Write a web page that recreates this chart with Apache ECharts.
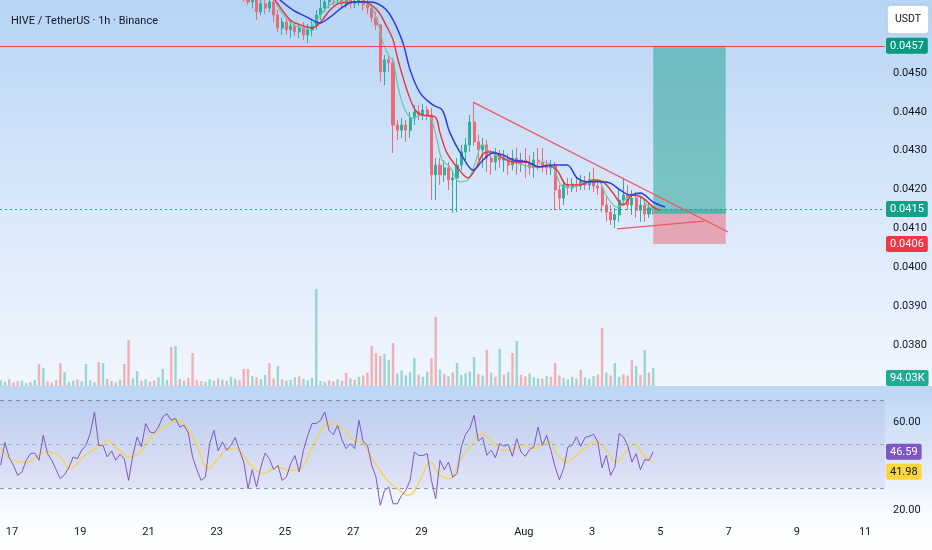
<!DOCTYPE html>
<html><head><meta charset="utf-8">
<script src="https://cdn.jsdelivr.net/npm/echarts@6/dist/echarts.min.js"></script>
<style>html,body{margin:0;padding:0;background:#fff}#c{width:932px;height:550px}</style>
</head><body><div id="c"></div>
<script>
// ---------- data (hours counted from Jul 17 00:00, one bar every 3h) ----------
const firstHour = -8, stepHours = 3;
const candleStart = 56; // index of first candle visible in the price pane
// [open, close, low, high]
const candles = [
[0.04719,0.04709,0.04696,0.04734],[0.04709,0.04696,0.04683,0.04719],[0.04696,0.04683,0.04675,0.04709],[0.04683,0.04698,0.04667,0.04709],
[0.04698,0.04657,0.04637,0.04703],[0.04657,0.04678,0.04649,0.04688],[0.04678,0.04667,0.04652,0.04693],[0.04667,0.04683,0.04657,0.04696],
[0.04683,0.04649,0.04631,0.04688],[0.04649,0.04616,0.04606,0.04662],[0.04616,0.04631,0.04598,0.04642],[0.04631,0.04611,0.04598,0.04642],
[0.04611,0.04621,0.04590,0.04637],[0.04621,0.04606,0.04595,0.04631],[0.04606,0.04616,0.04590,0.04626],[0.04616,0.04598,0.04585,0.04631],
[0.04598,0.04611,0.04577,0.04626],[0.04611,0.04621,0.04595,0.04637],[0.04621,0.04649,0.04611,0.04662],[0.04649,0.04667,0.04637,0.04688],
[0.04667,0.04683,0.04657,0.04701],[0.04683,0.04696,0.04667,0.04709],[0.04696,0.04688,0.04673,0.04709],[0.04688,0.04693,0.04675,0.04703],
[0.04693,0.04680,0.04667,0.04709],[0.04680,0.04691,0.04667,0.04698],[0.04691,0.04678,0.04665,0.04703],[0.04678,0.04683,0.04667,0.04693],
[0.04683,0.04688,0.04673,0.04701],[0.04688,0.04675,0.04662,0.04698],[0.04675,0.04667,0.04652,0.04688],[0.04667,0.04642,0.04631,0.04678],
[0.04642,0.04624,0.04611,0.04657],
[0.04624,0.04503,0.04477,0.04624],[0.04503,0.04534,0.04469,0.04546],[0.04534,0.04526,0.04503,0.04546],[0.04526,0.04366,0.04294,0.04539],
[0.04366,0.04353,0.04328,0.04379],[0.04353,0.04366,0.04333,0.04384],[0.04366,0.04353,0.04323,0.04379],[0.04353,0.04384,0.04333,0.04400],
[0.04384,0.04400,0.04366,0.04418],[0.04400,0.04392,0.04379,0.04418],[0.04392,0.04405,0.04379,0.04420],[0.04405,0.04392,0.04379,0.04415],
[0.04392,0.04238,0.04173,0.04410],[0.04238,0.04263,0.04173,0.04281],[0.04263,0.04238,0.04212,0.04281],[0.04238,0.04256,0.04220,0.04276],
[0.04256,0.04225,0.04199,0.04271],[0.04225,0.04230,0.04140,0.04250],[0.04230,0.04263,0.04142,0.04281],[0.04263,0.04297,0.04250,0.04315],
[0.04297,0.04315,0.04276,0.04333],[0.04315,0.04374,0.04297,0.04392],[0.04374,0.04323,0.04312,0.04425],[0.04323,0.04302,0.04276,0.04341],
[0.04302,0.04315,0.04256,0.04333],[0.04315,0.04281,0.04245,0.04328],[0.04281,0.04271,0.04238,0.04302],[0.04271,0.04289,0.04250,0.04307],
[0.04289,0.04276,0.04256,0.04302],[0.04276,0.04281,0.04245,0.04302],[0.04281,0.04263,0.04238,0.04292],[0.04263,0.04281,0.04250,0.04302],
[0.04281,0.04268,0.04238,0.04307],[0.04268,0.04276,0.04245,0.04294],[0.04276,0.04271,0.04230,0.04307],[0.04271,0.04256,0.04238,0.04289],
[0.04256,0.04276,0.04230,0.04297],[0.04276,0.04271,0.04250,0.04307],[0.04271,0.04263,0.04245,0.04307],[0.04263,0.04256,0.04238,0.04276],
[0.04256,0.04261,0.04238,0.04276],[0.04261,0.04199,0.04147,0.04271],[0.04199,0.04178,0.04147,0.04212],[0.04178,0.04212,0.04160,0.04225],
[0.04212,0.04204,0.04186,0.04230],[0.04204,0.04214,0.04194,0.04230],[0.04214,0.04209,0.04194,0.04230],[0.04209,0.04220,0.04199,0.04238],
[0.04220,0.04212,0.04199,0.04235],[0.04212,0.04225,0.04199,0.04245],[0.04225,0.04209,0.04194,0.04256],[0.04209,0.04204,0.04186,0.04225],
[0.04204,0.04160,0.04142,0.04220],[0.04160,0.04142,0.04117,0.04186],[0.04142,0.04122,0.04109,0.04160],[0.04122,0.04135,0.04101,0.04153],
[0.04135,0.04173,0.04117,0.04199],[0.04173,0.04186,0.04160,0.04230],[0.04186,0.04160,0.04147,0.04212],[0.04160,0.04178,0.04135,0.04199],
[0.04178,0.04147,0.04127,0.04194],[0.04147,0.04160,0.04117,0.04186],[0.04160,0.04137,0.04117,0.04173],[0.04137,0.04153,0.04127,0.04168],
[0.04153,0.04150,0.04135,0.04160]
];
// volume in thousands (K), one per bar from firstHour
const volumeK = [
30,22,35,18,25,28,15,20,32,115, 94,25,18,30,120,73,22,28,35,24,
115,30,20,125,120,38,26,18,33,115, 240,40,78,28,35,22,30,45,89,32,
204,209,36,28,42,172,30,25,22,35, 28,40,33,26,48,38,30,89,89,52,
45,36,58,120,40,104,35,28,32,45, 50,38,30,42,506,26,22,30,25,35,
28,68,40,33,48,55,70,209,172,157, 167,136,224,65,80,55,72,146,60,48,
75,146,360,85,62,50,70,120,58,66, 75,151,62,55,188,70,48,193,60,72,
172,235,58,50,65,45,40,38,52,48, 120,55,42,35,48,40,84,45,38,52,
60,303,70,55,120,48,62,55,136,104, 58,188,70,94.03
];
const rsiValues = [
40.4,50.8,43.9,40.4,35.8,37.3,42.7,45.7,46.0,42.7, 54.1,45.7,42.7,38.4,34.3,36.1,39.3,44.2,43.4,47.3,
49.5,54.9,64.8,49.5,49.5,44.2,47.0,42.7,45.4,43.4, 33.5,44.9,53.4,48.8,59.5,55.6,55.2,57.9,62.5,64.0,
61.0,61.8,57.9,58.7,55.2,44.2,38.4,33.5,35.0,50.3, 56.4,47.0,51.1,47.3,49.5,53.1,47.3,41.9,29.7,38.4,
30.5,39.6,46.0,43.4,38.4,40.4,33.5,35.0,41.1,44.9, 37.3,47.3,54.1,59.5,59.5,61.0,64.8,56.4,54.4,58.7,
52.1,48.0,50.3,48.0,61.0,51.1,49.5,40.4,35.0,22.1, 28.9,30.5,22.8,22.8,26.6,28.9,33.5,46.5,44.9,44.9,
45.7,33.5,25.1,42.7,38.4,41.9,35.0,36.6,48.8,54.6, 57.2,63.3,51.5,53.1,45.0,47.3,43.9,50.3,49.1,50.0,
44.5,52.6,46.5,44.5,47.6,48.8,57.9,49.5,54.1,47.3, 39.6,33.8,38.9,48.8,49.5,53.4,49.1,53.1,53.7,54.6,
51.1,39.3,45.0,35.8,39.6,54.9,53.4,49.5,41.9,45.7, 38.4,43.0,42.7,46.59
];
// [hour, value]
const rsiMA = [[-8,48.0],[-1,43.4],[10,41.9],[24,46.5],[33,45.0],[41,38.9],[50,44.2],[62,49.5],[67,51.8],[74,48.0],[83,44.2],[90,46.5],[99,54.1],[109,58.7],[116,61.0],[123,57.9],[130,49.5],[138,38.9],[144,42.7],[153,48.0],[160,47.3],[167,41.1],[177,36.6],[186,39.6],[196,38.1],[203,38.9],[212,49.5],[223,59.5],[231,57.9],[240,51.8],[247,50.3],[254,42.7],[264,33.5],[271,29.7],[279,26.6],[287,33.5],[294,41.9],[301,35.8],[308,34.3],[315,42.7],[322,48.8],[330,54.9],[339,50.3],[346,47.3],[353,48.0],[360,49.5],[367,48.0],[374,50.3],[378,51.1],[383,45.7],[390,41.9],[397,45.0],[404,48.8],[411,51.1],[418,47.3],[425,41.9],[432,46.5],[438,50.3],[444,45.0],[451,41.98]];
const emaFast = [[183,0.04709],[188.5,0.04662],[198,0.04624],[207.5,0.04616],[214.5,0.04637],[221.6,0.04670],[228.6,0.04683],[249.7,0.04680],[256.7,0.04637],[261,0.04577],[265.9,0.04539],[268,0.04534],[271.5,0.04464],[276.4,0.04405],[282,0.04384],[288.4,0.04392],[294,0.04387],[298.9,0.04328],[302.5,0.04276],[308,0.04258],[314.7,0.04220],[320.7,0.04225],[326.4,0.04276],[330.6,0.04315],[336.2,0.04297],[345.4,0.04281],[355.2,0.04268],[366.5,0.04258],[373.5,0.04271],[380.5,0.04258],[387.6,0.04207],[394.6,0.04207],[404.4,0.04220],[411.4,0.04225],[418.5,0.04181],[425.5,0.04155],[432.5,0.04178],[439.6,0.04191],[446.6,0.04160],[453.7,0.04147]];
const emaMid = [[180,0.04714],[185,0.04688],[195.5,0.04637],[202.6,0.04624],[211,0.04616],[216.6,0.04629],[223.7,0.04662],[230.7,0.04680],[246.9,0.04683],[256.7,0.04662],[263.8,0.04618],[268,0.04585],[271.5,0.04534],[277.8,0.04456],[283.5,0.04405],[288.4,0.04392],[297.5,0.04387],[301,0.04346],[306,0.04294],[314.7,0.04250],[320.7,0.04230],[326.4,0.04256],[332,0.04294],[338.3,0.04297],[345.4,0.04281],[352.4,0.04271],[362.2,0.04271],[369.3,0.04258],[376.3,0.04263],[383.3,0.04250],[390.4,0.04212],[399.5,0.04212],[408.7,0.04225],[415.7,0.04220],[422.7,0.04191],[429.8,0.04160],[436.8,0.04186],[443.8,0.04178],[450.9,0.04155],[455.8,0.04147]];
const emaSlow = [[178,0.04727],[188.5,0.04688],[197.7,0.04662],[207.5,0.04644],[216.6,0.04629],[223.7,0.04644],[232.8,0.04670],[239.9,0.04683],[251.8,0.04683],[261,0.04670],[268,0.04637],[275,0.04577],[280,0.04508],[287,0.04449],[296,0.04418],[302.5,0.04405],[308,0.04346],[317,0.04284],[324.3,0.04250],[331.3,0.04276],[338.3,0.04294],[345.4,0.04289],[352.4,0.04276],[362.2,0.04271],[371.4,0.04258],[380.5,0.04263],[390.4,0.04263],[397.4,0.04230],[404.4,0.04220],[413.6,0.04220],[420.6,0.04217],[427.6,0.04199],[434.7,0.04186],[441.7,0.04191],[450.9,0.04168],[459.3,0.04155]];
const upperTrend = [[324.3,0.04425],[503.6,0.04091]];
const lowerTrend = [[425.5,0.04099],[486.7,0.04119]];
const targetPrice = 0.0457, entryPrice = 0.04138, stopPrice = 0.0406, lastPrice = 0.0415;
const positionHours = [451, 502];
const lastVolumeK = 94.03, lastRsi = 46.59, lastRsiMA = 41.98;
const priceTicks = [0.038,0.039,0.040,0.041,0.042,0.043,0.044,0.045];
const rsiTicks = [20,60];
const rsiLevels = [70,50,30];
const dayTickHours = [0,48,96,144,192,240,288,360,408,456,504,552,600];
const dayTickNames = ['17','19','21','23','25','27','29','Aug','3','5','7','9','11'];
const titleText = 'HIVE / TetherUS · 1h · Binance';
const currencyText = 'USDT';

// ---------- chart ----------
const chart = echarts.init(document.getElementById('c'), null, {renderer:'canvas', width:932, height:550});
const hourOf = i => firstHour + stepHours * i;
const X_MIN = -8.44, X_MAX = 614;
const FONT = 'Roboto, "Liberation Sans", sans-serif';
const TXT = '#131722';
const HIDDEN = {color: 'rgba(0,0,0,0)', width: 0};
const candleData = candles.map((c, k) => [hourOf(candleStart + k), c[0], c[1], c[2], c[3]]);
const volData = volumeK.map((v, i) => ({
  value: [hourOf(i), v],
  itemStyle: {color: (i === 0 || rsiValues[i] >= rsiValues[i - 1]) ? 'rgba(38,166,154,0.42)' : 'rgba(239,83,80,0.42)'}
}));
const rsiData = rsiValues.map((v, i) => [hourOf(i), v]);

function tag(bg, fg, fmt, offset) {
  return {show: true, position: 'end', distance: 1, formatter: fmt, backgroundColor: bg, color: fg,
    padding: [3, 4, 2, 4], fontSize: 11, fontFamily: FONT, borderRadius: 2, offset: offset || [0, 0]};
}
const priceFmt = p => Number(p.value).toFixed(4);
const xBase = {type: 'value', min: X_MIN, max: X_MAX, axisLine: {show: false}, axisTick: {show: false},
  splitLine: {show: false}, axisLabel: {show: false}};

const option = {
  animation: false,
  backgroundColor: 'transparent',
  title: {text: titleText, left: 6, top: 11, textStyle: {fontSize: 11, fontWeight: 'normal', color: TXT, fontFamily: FONT}},
  graphic: [
    {type: 'rect', z: -10, silent: true, shape: {x: 0, y: 0, width: 932, height: 386},
      style: {fill: new echarts.graphic.LinearGradient(0, 0, 0, 1, [{offset: 0, color: '#b7d4f5'}, {offset: 0.5, color: '#d7e7fa'}, {offset: 1, color: '#f1f6fd'}])}},
    {type: 'rect', z: -10, silent: true, shape: {x: 0, y: 386, width: 932, height: 164},
      style: {fill: new echarts.graphic.LinearGradient(0, 0, 0, 1, [{offset: 0, color: '#bcd6f5'}, {offset: 0.45, color: '#dfe9fa'}, {offset: 0.8, color: '#fafcff'}, {offset: 1, color: '#ffffff'}])}},
    {type: 'group', left: 887, top: 5, z: 100, children: [
      {type: 'rect', shape: {x: 0, y: 0, width: 41, height: 28, r: 4},
        style: {fill: '#ffffff', stroke: 'rgba(0,0,0,0.06)', shadowBlur: 3, shadowColor: 'rgba(0,0,0,0.12)'}},
      {type: 'text', x: 20.5, y: 14, style: {text: currencyText, fill: TXT, fontSize: 10.5, fontFamily: FONT, align: 'center', verticalAlign: 'middle'}}
    ]}
  ],
  grid: [
    {left: 0, top: 0, width: 885, height: 386},
    {left: 0, top: 286, width: 885, height: 100},
    {left: 0, top: 387, width: 885, height: 131}
  ],
  xAxis: [
    Object.assign({gridIndex: 0}, xBase),
    Object.assign({gridIndex: 1}, xBase),
    Object.assign({}, xBase, {gridIndex: 2, axisLabel: {show: true, customValues: dayTickHours, margin: 9,
      formatter: v => dayTickNames[dayTickHours.indexOf(v)], color: TXT, fontSize: 11, fontFamily: FONT}})
  ],
  yAxis: [
    {gridIndex: 0, type: 'value', position: 'right', min: 0.036945, max: 0.046879, splitLine: {show: false},
      axisLine: {show: false}, axisTick: {show: false},
      axisLabel: {customValues: priceTicks, formatter: v => v.toFixed(4), color: TXT, fontSize: 11, fontFamily: FONT, margin: 8}},
    {gridIndex: 1, type: 'value', min: 0, max: 522, show: false},
    {gridIndex: 2, type: 'value', position: 'right', min: 16.3, max: 76.2, splitLine: {show: false},
      axisLine: {show: false}, axisTick: {show: false},
      axisLabel: {customValues: rsiTicks, formatter: v => v.toFixed(2), color: TXT, fontSize: 11, fontFamily: FONT, margin: 8}}
  ],
  series: [
    {type: 'bar', name: 'Volume', xAxisIndex: 1, yAxisIndex: 1, data: volData, barWidth: 2.4, z: 1,
      markLine: {silent: true, precision: 4, symbol: ['none', 'none'], data: [
        {yAxis: lastVolumeK, lineStyle: HIDDEN, label: tag('#22ab94', '#fff', p => Number(p.value).toFixed(2) + 'K', [0, 10])}
      ]}},
    {type: 'candlestick', name: 'HIVE', xAxisIndex: 0, yAxisIndex: 0, data: candleData, encode: {x: 0, y: [1, 2, 3, 4]},
      barWidth: 2.6, z: 3,
      itemStyle: {color: '#2fae9f', color0: '#ee6b75', borderColor: '#2fae9f', borderColor0: '#ee6b75', borderWidth: 1},
      markArea: {silent: true, data: [
        [{xAxis: positionHours[0], yAxis: targetPrice, itemStyle: {color: 'rgba(8,153,129,0.45)'}}, {xAxis: positionHours[1], yAxis: entryPrice}],
        [{xAxis: positionHours[0], yAxis: entryPrice, itemStyle: {color: 'rgba(242,54,69,0.38)'}}, {xAxis: positionHours[1], yAxis: stopPrice}],
        [{xAxis: positionHours[0], yAxis: lastPrice, itemStyle: {color: 'rgba(8,153,129,0.35)'}}, {xAxis: positionHours[1], yAxis: entryPrice}]
      ]},
      markLine: {silent: true, precision: 6, symbol: ['none', 'none'], data: [
        {yAxis: targetPrice, lineStyle: {color: '#ec4550', width: 1.2, type: 'solid'}, label: tag('#089981', '#fff', priceFmt)},
        {yAxis: lastPrice, lineStyle: {color: '#1e9e8c', width: 1, type: [2, 3]}, label: tag('#12a08a', '#fff', priceFmt)},
        {yAxis: stopPrice, lineStyle: HIDDEN, label: tag('#f23645', '#fff', priceFmt)}
      ]}},
    {type: 'line', name: 'EMA fast', xAxisIndex: 0, yAxisIndex: 0, data: emaFast, showSymbol: false, smooth: 0.35, z: 4,
      lineStyle: {color: '#6cc6a6', width: 1.2}},
    {type: 'line', name: 'EMA mid', xAxisIndex: 0, yAxisIndex: 0, data: emaMid, showSymbol: false, smooth: 0.35, z: 4,
      lineStyle: {color: '#e2343b', width: 1.4}},
    {type: 'line', name: 'EMA slow', xAxisIndex: 0, yAxisIndex: 0, data: emaSlow, showSymbol: false, smooth: 0.35, z: 4,
      lineStyle: {color: '#2a3ddc', width: 1.5}},
    {type: 'line', name: 'Trend high', xAxisIndex: 0, yAxisIndex: 0, data: upperTrend, showSymbol: false, z: 5,
      lineStyle: {color: '#ef5562', width: 1.2}},
    {type: 'line', name: 'Trend low', xAxisIndex: 0, yAxisIndex: 0, data: lowerTrend, showSymbol: false, z: 5,
      lineStyle: {color: '#ef5562', width: 1.2}},
    {type: 'line', name: 'RSI', xAxisIndex: 2, yAxisIndex: 2, data: rsiData, showSymbol: false, z: 4,
      lineStyle: {color: '#7e57c2', width: 1},
      markArea: {silent: true, data: [[{yAxis: rsiLevels[0], itemStyle: {color: 'rgba(126,87,194,0.09)'}}, {yAxis: rsiLevels[2]}]]},
      markLine: {silent: true, precision: 2, symbol: ['none', 'none'], data: [
        {yAxis: rsiLevels[0], lineStyle: {color: 'rgba(120,123,134,0.75)', width: 1, type: [4, 4]}, label: {show: false}},
        {yAxis: rsiLevels[1], lineStyle: {color: 'rgba(120,123,134,0.45)', width: 1, type: [4, 4]}, label: {show: false}},
        {yAxis: rsiLevels[2], lineStyle: {color: 'rgba(120,123,134,0.75)', width: 1, type: [4, 4]}, label: {show: false}},
        {yAxis: lastRsi, lineStyle: HIDDEN, label: tag('#7e57c2', '#fff', p => Number(p.value).toFixed(2))},
        {yAxis: lastRsiMA, lineStyle: HIDDEN, label: tag('#fbd63a', TXT, p => Number(p.value).toFixed(2), [0, 10])}
      ]}},
    {type: 'line', name: 'RSI MA', xAxisIndex: 2, yAxisIndex: 2, data: rsiMA, showSymbol: false, smooth: 0.4, z: 3,
      lineStyle: {color: '#f7d24a', width: 1.3}}
  ]
};
chart.setOption(option);
</script>
</body></html>
